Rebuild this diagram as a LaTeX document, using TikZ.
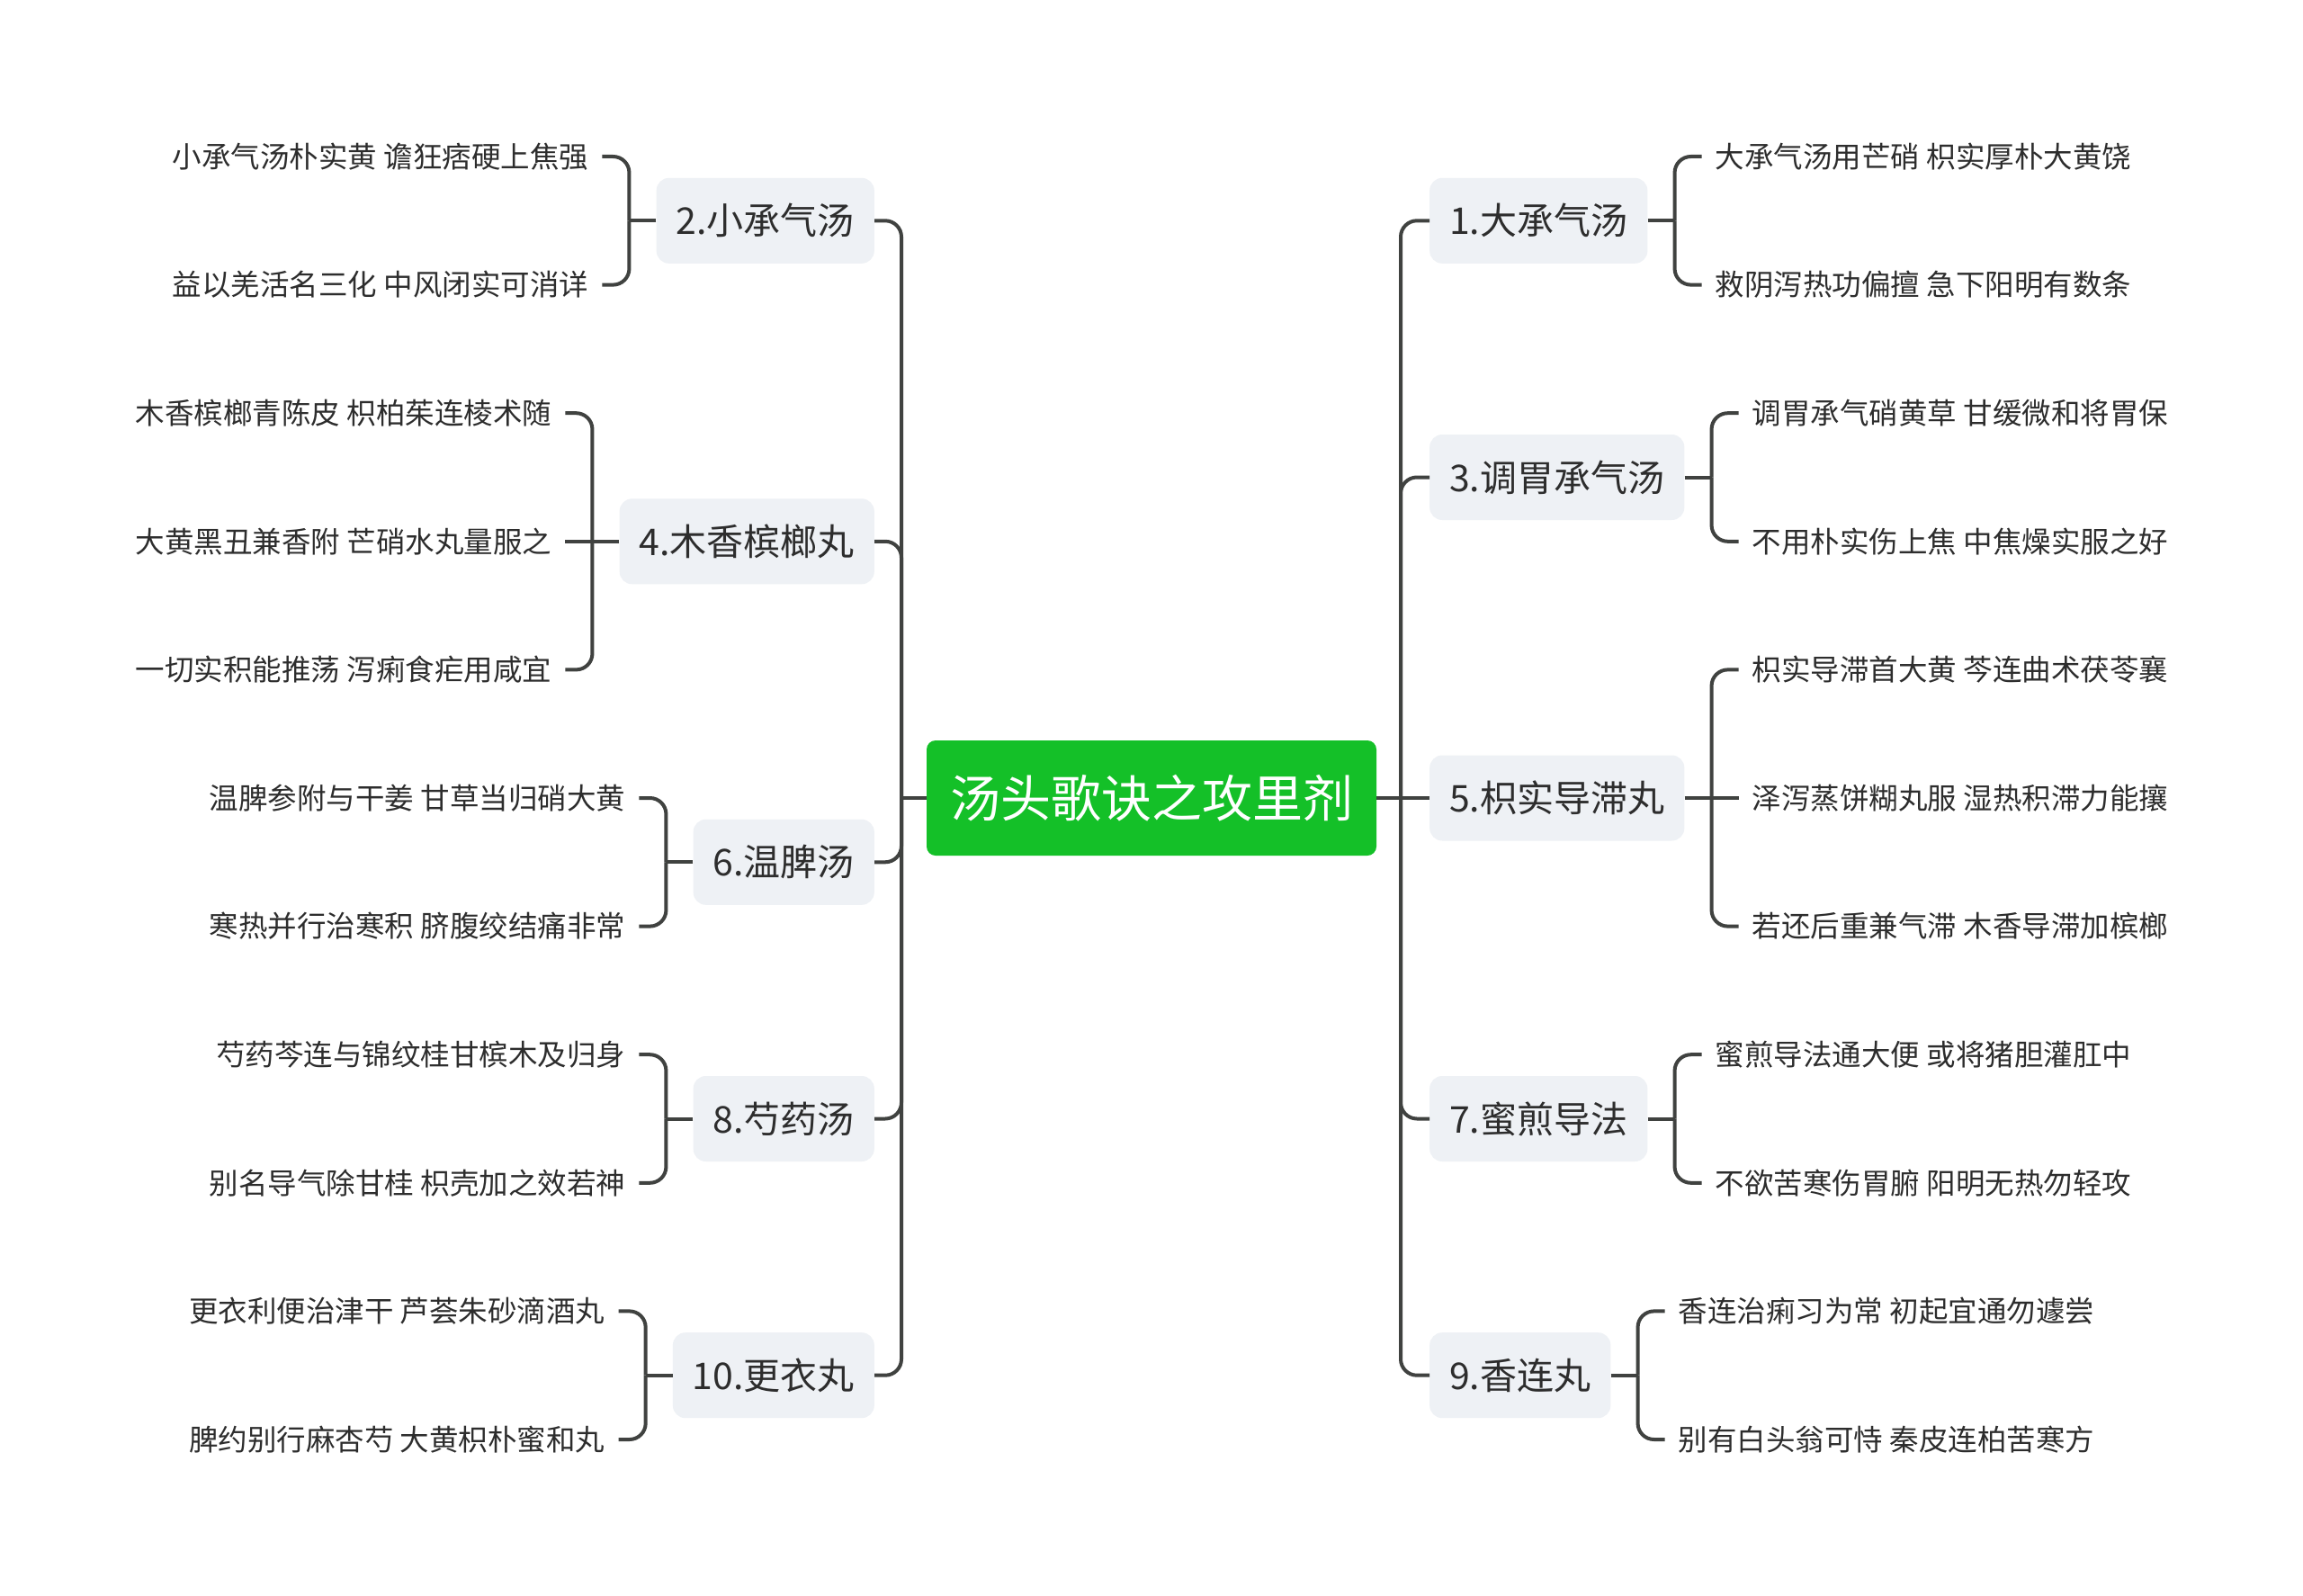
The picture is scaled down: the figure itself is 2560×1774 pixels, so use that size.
\documentclass[tikz,border=0pt]{standalone}
\usepackage{fontspec}
\setmainfont{Noto Sans CJK SC}
\usetikzlibrary{positioning,calc}
\definecolor{rootgreen}{RGB}{20,192,40}
\definecolor{topicgray}{RGB}{238,241,245}
\definecolor{linegray}{RGB}{64,66,64}
\definecolor{textgray}{RGB}{45,45,45}
\tikzset{
  root/.style={fill=rootgreen,rounded corners=10pt,text=white,font=\fontsize{56pt}{64pt}\selectfont,minimum height=128pt,inner xsep=26pt},
  topic/.style={fill=topicgray,rounded corners=14pt,text=textgray,font=\fontsize{41pt}{48pt}\selectfont,minimum height=95pt,inner xsep=22pt},
  leaf/.style={text=textgray,font=\fontsize{32.5pt}{38pt}\selectfont,inner xsep=15pt,inner ysep=0pt},
  link/.style={draw=linegray,line width=4pt,rounded corners=18pt},
}
\begin{document}
\begin{tikzpicture}[x=1pt,y=-1pt]
\fill[white] (0,0) rectangle (2560,1774);
\useasboundingbox (0,0) rectangle (2560,1774);
%Mitte
\node[root] (root) at (1280,887) {汤头歌诀之攻里剂};
\coordinate (lj) at (1002,887);
\coordinate (rj) at (1557,887);
\draw[link] (root.west) -- (lj);
\draw[link] (root.east) -- (rj);
%linke Seite
\foreach \b/\y/\t in {2/245.3/2.小承气汤, 4/601.8/4.木香槟榔丸, 6/958.3/6.温脾汤, 8/1243.5/8.芍药汤, 10/1528.7/10.更衣丸}{
  \node[topic,anchor=east] (b\b) at (972,\y) {\t};
  \coordinate (j\b) at ([xshift=-30pt]b\b.west);
  \draw[link] (lj) |- (b\b.east);
  \draw[link] (b\b.west) -- (j\b);
}
%rechte Seite
\foreach \b/\y/\t in {1/245.3/1.大承气汤, 3/530.5/3.调胃承气汤, 7/1243.5/7.蜜煎导法, 9/1528.7/9.香连丸}{
  \node[topic,anchor=west] (b\b) at (1589,\y) {\t};
  \coordinate (j\b) at ([xshift=30pt]b\b.east);
  \draw[link] (rj) |- (b\b.west);
  \draw[link] (b\b.east) -- (j\b);
}
\node[topic,anchor=west] (b5) at (1589,887) {5.枳实导滞丸};
\coordinate (j5) at ([xshift=30pt]b5.east);
\draw[link] (rj) -- (b5.west);
\draw[link] (b5.east) -- (j5);
%Blaetter links
\foreach \b/\n/\dy/\t in {2/a/-71.3/小承气汤朴实黄 谵狂痞硬上焦强, 2/b/71.3/益以羌活名三化 中风闭实可消详,
  4/a/-142.6/木香槟榔青陈皮 枳柏茱连棱术随, 4/c/142.6/一切实积能推荡 泻痢食疟用咸宜,
  6/a/-71.3/温脾参附与干姜 甘草当归硝大黄, 6/b/71.3/寒热并行治寒积 脐腹绞结痛非常,
  8/a/-71.3/芍药芩连与锦纹桂甘槟木及归身, 8/b/71.3/别名导气除甘桂 枳壳加之效若神,
  10/a/-71.3/更衣利便治津干 芦荟朱砂滴酒丸, 10/b/71.3/脾约别行麻杏芍 大黄枳朴蜜和丸}{
  \path (j\b) ++(-30,\dy) node[leaf,anchor=east] (l\b\n) {\t};
  \draw[link] (j\b) |- (l\b\n.east);
}
\path (j4) ++(-30,0) node[leaf,anchor=east] (l4b) {大黄黑丑兼香附 芒硝水丸量服之};
\draw[link] (j4) -- (l4b.east);
%Blaetter rechts
\foreach \b/\n/\dy/\t in {1/a/-71.3/大承气汤用芒硝 枳实厚朴大黄饶, 1/b/71.3/救阴泻热功偏擅 急下阳明有数条,
  3/a/-71.3/调胃承气硝黄草 甘缓微和将胃保, 3/b/71.3/不用朴实伤上焦 中焦燥实服之好,
  5/a/-142.6/枳实导滞首大黄 芩连曲术茯苓襄, 5/c/142.6/若还后重兼气滞 木香导滞加槟榔,
  7/a/-71.3/蜜煎导法通大便 或将猪胆灌肛中, 7/b/71.3/不欲苦寒伤胃腑 阳明无热勿轻攻,
  9/a/-71.3/香连治痢习为常 初起宜通勿遽尝, 9/b/71.3/别有白头翁可恃 秦皮连柏苦寒方}{
  \path (j\b) ++(30,\dy) node[leaf,anchor=west] (l\b\n) {\t};
  \draw[link] (j\b) |- (l\b\n.west);
}
\path (j5) ++(30,0) node[leaf,anchor=west] (l5b) {泽泻蒸饼糊丸服 湿热积滞力能攘};
\draw[link] (j5) -- (l5b.west);
\end{tikzpicture}
\end{document}
